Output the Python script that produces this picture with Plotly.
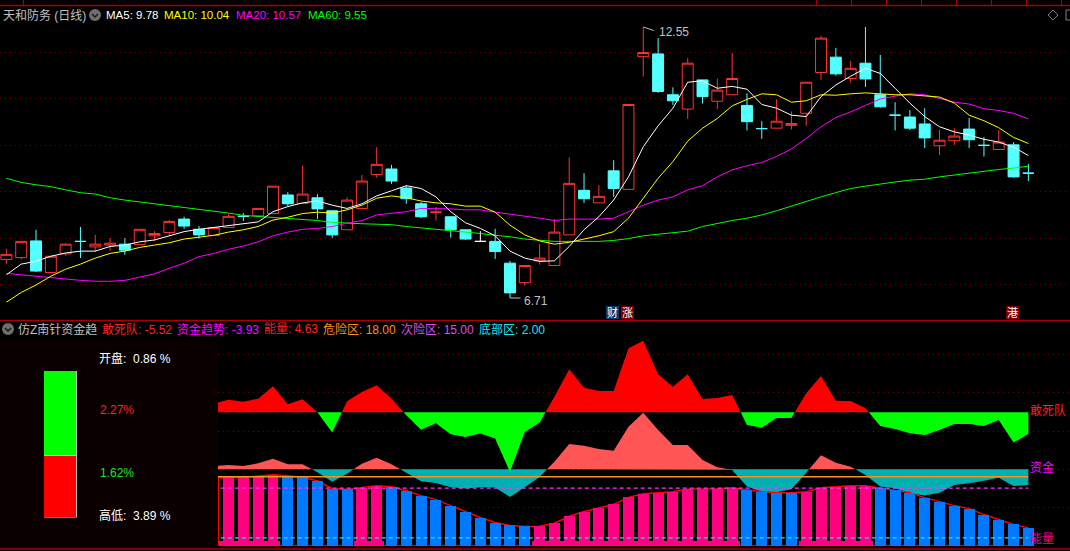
import numpy as np
import plotly.graph_objects as go

W, H = 1070, 551

# ---------- daily candles ----------
opens = [7.54,7.58,7.94,7.26,7.66,7.93,7.81,7.85,7.87,7.86,8.05,8.12,8.41,8.19,8.06,8.23,8.47,8.48,8.53,8.93,
         8.75,8.87,8.59,8.18,8.64,9.37,9.49,9.08,8.74,8.56,8.46,8.18,7.93,7.93,7.46,7.04,7.51,7.41,8.07,9.03,
         8.76,9.45,9.05,11.91,11.97,11.09,10.78,11.41,10.95,11.09,10.86,10.36,10.37,10.43,10.69,11.57,11.90,11.44,11.77,11.09,
         10.65,10.61,10.46,9.99,10.10,10.35,10.00,9.91,10.01,9.40]
highs = [7.77,7.93,8.18,7.61,7.89,8.24,8.07,8.00,8.00,8.19,8.15,8.39,8.46,8.26,8.23,8.52,8.54,8.64,9.12,8.99,
         9.56,8.95,8.59,8.88,9.36,9.96,9.58,9.14,8.78,8.67,8.46,8.18,8.15,8.20,7.51,7.41,7.87,8.41,9.74,9.40,
         9.14,9.68,10.88,12.55,12.31,11.25,11.88,11.41,11.44,11.99,11.12,10.52,10.99,10.73,11.36,12.36,12.10,11.82,12.55,11.95,
         10.93,10.76,10.80,10.33,10.37,10.59,10.18,10.33,10.07,9.60]
lows  = [7.45,7.54,7.27,7.23,7.62,7.57,7.70,7.73,7.64,7.86,7.94,8.05,8.20,7.99,8.06,8.23,8.37,8.48,8.53,8.69,
         8.75,8.41,8.00,8.18,8.64,9.30,9.17,8.74,8.43,8.38,8.01,7.96,7.93,7.55,6.71,6.97,7.43,7.41,8.07,8.76,
         8.76,8.89,9.05,11.48,11.13,10.87,10.57,10.90,10.78,11.09,10.32,10.14,10.37,10.34,10.42,11.41,11.50,11.35,11.26,10.81,
         10.32,10.33,9.94,9.79,10.01,9.94,9.76,9.91,9.30,9.23]
closes= [7.65,7.93,7.29,7.61,7.87,7.93,7.87,7.89,7.74,8.19,8.10,8.36,8.26,8.07,8.23,8.47,8.47,8.64,9.12,8.74,
         8.95,8.63,8.07,8.82,9.23,9.59,9.23,8.85,8.46,8.56,8.18,7.98,7.93,7.71,6.82,7.41,7.57,8.13,9.18,8.85,
         8.90,9.07,10.88,12.00,11.16,10.96,11.77,11.05,11.19,11.44,10.51,10.36,10.52,10.47,11.36,12.31,11.54,11.66,11.43,10.83,
         10.65,10.37,10.16,10.11,10.20,10.12,10.00,10.07,9.32,9.40]
candle_kind = list("rrcrrcrrcr" "rrccrrcrrc" "rccrrrcccr" "ccwccrrrrc" "rcrrccrcrr" "ccrrrrcrcc" "cccrrccrcc")

ma5 = [7.21,7.44,7.50,7.61,7.68,7.72,7.72,7.82,7.85,7.92,7.96,8.05,8.14,8.19,8.23,8.27,8.30,8.35,8.57,8.68,
       8.76,8.80,8.71,8.64,8.74,8.91,9.02,9.13,9.07,8.89,8.57,8.33,8.21,8.05,7.72,7.57,7.50,7.51,7.82,8.18,
       8.46,8.82,9.32,9.97,10.42,10.80,11.36,11.39,11.23,11.27,11.21,10.88,10.80,10.65,10.62,11.05,11.30,11.49,11.66,11.55,
       11.23,10.91,10.62,10.40,10.29,10.22,10.13,10.07,9.96,9.78]
ma10 = [6.62,6.83,6.99,7.18,7.33,7.44,7.57,7.67,7.72,7.80,7.85,7.90,7.98,8.02,8.06,8.13,8.18,8.25,8.39,8.45,
        8.53,8.56,8.54,8.61,8.71,8.86,8.91,8.87,8.80,8.76,8.74,8.69,8.69,8.56,8.28,8.07,7.94,7.87,7.91,7.98,
        8.05,8.14,8.43,8.86,9.29,9.65,10.09,10.37,10.58,10.85,10.99,11.11,11.09,10.93,10.96,11.09,11.08,11.11,11.13,11.11,
        11.09,11.09,11.06,11.04,10.91,10.65,10.53,10.38,10.17,10.04]
ma20 = [7.24,7.21,7.18,7.15,7.11,7.09,7.07,7.07,7.09,7.16,7.23,7.35,7.46,7.60,7.67,7.76,7.83,7.92,8.05,8.13,
        8.19,8.21,8.25,8.32,8.38,8.50,8.54,8.57,8.64,8.64,8.63,8.61,8.61,8.56,8.52,8.48,8.43,8.38,8.41,8.41,
        8.41,8.43,8.57,8.71,8.82,8.89,9.04,9.13,9.32,9.47,9.56,9.63,9.76,9.92,10.15,10.40,10.60,10.72,10.86,11.00,
        11.06,11.11,11.09,11.01,10.93,10.89,10.79,10.75,10.69,10.57]
ma60 = [9.29,9.20,9.15,9.11,9.04,8.98,8.95,8.87,8.82,8.78,8.75,8.71,8.66,8.63,8.59,8.54,8.49,8.47,8.44,8.42,
        8.40,8.38,8.34,8.32,8.31,8.30,8.29,8.25,8.22,8.20,8.17,8.13,8.10,8.06,8.03,7.98,7.95,7.93,7.93,7.93,
        7.93,7.95,7.99,8.05,8.08,8.11,8.15,8.25,8.32,8.38,8.43,8.50,8.59,8.69,8.80,8.89,8.98,9.07,9.12,9.17,
        9.21,9.25,9.27,9.32,9.36,9.40,9.45,9.48,9.51,9.55]

price_ticks = [7, 8, 9, 10, 11, 12]

# ---------- lower indicator (starts at candle 14) ----------
dare = [2.20,3.22,2.71,3.47,6.61,2.03,3.31,0.00,-5.17,2.80,5.17,6.86,3.47,-0.76,-4.41,-2.80,-5.59,-6.27,-5.42,-6.69,
        -15.17,-5.00,-2.63,3.98,10.93,6.27,5.42,5.42,16.27,18.22,9.66,6.53,9.66,3.39,3.64,4.41,-3.22,-3.90,-1.44,-1.44,
        4.83,9.24,2.97,2.88,1.02,-3.47,-4.24,-5.34,-5.76,-4.49,-2.97,-2.97,-3.47,-1.95,-7.71,-5.52]
fund = [0.84,1.09,0.84,1.51,2.68,1.26,1.26,-0.75,-3.10,-1.09,1.42,2.93,1.26,-0.84,-3.01,-3.43,-4.52,-4.85,-4.52,-4.60,
        -6.95,-4.52,-1.92,1.92,6.36,5.94,5.10,4.69,10.71,14.23,9.87,6.11,6.11,2.34,0.50,-0.17,-4.35,-5.61,-5.77,-5.02,
        -0.84,3.51,1.67,0.67,-1.42,-4.35,-4.77,-6.03,-6.61,-5.86,-3.93,-3.51,-2.85,-2.09,-4.18,-3.93]
energy = [17.58,17.79,17.79,18.16,18.49,18.23,17.79,16.94,14.86,14.68,15.12,15.64,15.38,14.34,13.04,12.00,10.44,8.88,7.32,6.03,
          5.25,4.99,5.06,5.84,7.66,8.88,9.74,10.78,12.60,13.56,13.82,14.08,14.68,14.68,14.86,15.12,14.60,14.08,13.82,13.82,
          14.08,15.12,15.38,15.64,15.64,15.04,14.60,13.82,12.52,11.48,10.44,9.66,8.10,6.81,5.51,4.63]
energy_up = [1,1,1,1,1,0,0,0,0,0,1,1,0,0,0,0,0,0,0,0,
             0,0,1,1,1,1,1,1,1,1,1,1,1,1,1,1,0,0,0,0,
             1,1,1,1,1,0,0,0,0,0,0,0,0,0,0,0]
pink_base = 1.15
danger_zone, second_zone, bottom_zone = 18.00, 15.00, 2.00

gauge_low, gauge_high = 1.62, 2.27

# ---------- helpers ----------
RED, CYAN = "#ff3232", "#54ffff"
FONT = "Liberation Sans, Noto Sans CJK SC, sans-serif"


def px(x):
    return x / W


def py(y):
    return 1 - y / H


def split_zero(x, v):
    xs, vs = [], []
    for i in range(len(v)):
        xs.append(x[i]); vs.append(v[i])
        if i + 1 < len(v) and v[i] * v[i + 1] < 0:
            xs.append(x[i] + (x[i + 1] - x[i]) * v[i] / (v[i] - v[i + 1]))
            vs.append(0.0)
    return np.array(xs), np.array(vs)


idx = np.arange(len(closes))
low_idx = np.arange(14, 14 + len(energy))

fig = go.Figure()

# candles
for kind, color, fill in [("r", RED, "#000000"), ("c", CYAN, CYAN), ("w", "#ffffff", "#ffffff")]:
    m = [i for i, k in enumerate(candle_kind) if k == kind]
    fig.add_trace(go.Candlestick(
        x=idx[m], open=[opens[i] for i in m], high=[highs[i] for i in m],
        low=[lows[i] for i in m], close=[closes[i] for i in m],
        increasing=dict(line=dict(color=color, width=1), fillcolor=fill),
        decreasing=dict(line=dict(color=color, width=1), fillcolor=fill),
        whiskerwidth=0, xaxis="x", yaxis="y", showlegend=False, hoverinfo="skip"))

for vals, color in [(ma60, "#00ff00"), (ma20, "#ff00ff"), (ma10, "#ffff00"), (ma5, "#ffffff")]:
    fig.add_trace(go.Scatter(x=idx, y=vals, mode="lines", line=dict(color=color, width=1),
                             xaxis="x", yaxis="y", showlegend=False, hoverinfo="skip"))


def area(vals, axis, pos_color, neg_color):
    xs, vs = split_zero(low_idx.astype(float), np.array(vals, float))
    for arr, col in [(np.maximum(vs, 0), pos_color), (np.minimum(vs, 0), neg_color)]:
        fig.add_trace(go.Scatter(x=xs, y=arr, mode="lines", line=dict(width=0), fill="tozeroy",
                                 fillcolor=col, xaxis="x2", yaxis=axis, showlegend=False, hoverinfo="skip"))


area(fund, "y2", "#ff5555", "#00b0b0")
area(dare, "y3", "#ff0000", "#00ff00")

# energy: the red line sits on an axis drawn before the bars, so only its stretches between bars show
fig.add_trace(go.Scatter(x=low_idx, y=energy, mode="lines", line=dict(color="#ff0000", width=1.5),
                         xaxis="x2", yaxis="y4", showlegend=False, hoverinfo="skip"))
fig.add_trace(go.Scatter(x=low_idx, y=[0] * len(low_idx), mode="lines", line=dict(color="#ff0000", width=1),
                         xaxis="x2", yaxis="y4", showlegend=False, hoverinfo="skip"))
base_x = [i for i, u in zip(low_idx, energy_up) if u]
fig.add_trace(go.Bar(x=base_x, y=[pink_base] * len(base_x), width=1.0,
                     marker=dict(color="#ff0080", line=dict(width=0)),
                     xaxis="x2", yaxis="y6", showlegend=False, hoverinfo="skip"))
fig.add_trace(go.Bar(x=low_idx[1:], y=energy[1:], width=0.74,
                     marker=dict(color=["#ff0080" if u else "#0078ff" for u in energy_up[1:]], line=dict(width=0)),
                     xaxis="x2", yaxis="y6", showlegend=False, hoverinfo="skip"))
for level, color, dash, lw in [(danger_zone, "#ff9020", "solid", 1.5),
                               (second_zone, "#ff30ff", "4px,3px", 1.2),
                               (bottom_zone, "#20e0ff", "4px,3px", 1.2)]:
    fig.add_trace(go.Scatter(x=low_idx, y=[level] * len(low_idx), mode="lines",
                             line=dict(color=color, width=lw, dash=dash),
                             xaxis="x2", yaxis="y6", showlegend=False, hoverinfo="skip"))

# gauge on the left
fig.add_trace(go.Bar(x=[0], y=[gauge_low], width=1, marker=dict(color="#ff0000", line=dict(color="#c0c0c0", width=1)),
                     xaxis="x3", yaxis="y5", showlegend=False, hoverinfo="skip"))
fig.add_trace(go.Bar(x=[0], y=[gauge_high], base=[gauge_low], width=1,
                     marker=dict(color="#00ff00", line=dict(color="#c0c0c0", width=1)),
                     xaxis="x3", yaxis="y5", showlegend=False, hoverinfo="skip"))

# ---------- frame ----------
shapes = [dict(type="rect", xref="paper", yref="paper", x0=0, x1=px(218), y0=py(548), y1=py(340),
               fillcolor="#0a0000", line=dict(width=0), layer="below")]
for y in (5.5, 320.5, 549):
    shapes.append(dict(type="line", xref="paper", yref="paper", x0=0, x1=1, y0=py(y), y1=py(y),
                       line=dict(color="#a80000", width=1.5)))
for x in (23.5, 816.5, 851.5, 886.5, 921.5, 956.5, 991.5, 1026.5, 1061.5):
    shapes.append(dict(type="line", xref="paper", yref="paper", x0=px(x), x1=px(x), y0=py(0), y1=py(5),
                       line=dict(color="#a80000", width=1)))
shapes.append(dict(type="line", xref="paper", yref="paper", x0=px(218.5), x1=px(218.5), y0=py(478), y1=py(546),
                   line=dict(color="#ff0000", width=1)))
# round header icons
for cx, cy in [(95, 15), (8, 329)]:
    shapes.append(dict(type="circle", xref="paper", yref="paper", x0=px(cx - 6), x1=px(cx + 6),
                       y0=py(cy + 6), y1=py(cy - 6), fillcolor="#6e6e6e", line=dict(width=0)))
    shapes.append(dict(type="path", xref="paper", yref="paper",
                       path=f"M {px(cx-3)} {py(cy-1)} L {px(cx)} {py(cy+2)} L {px(cx+3)} {py(cy-1)}",
                       line=dict(color="#1a1a1a", width=1.5)))
# top-right icons
shapes.append(dict(type="path", xref="paper", yref="paper",
                   path=f"M {px(1053)} {py(10)} L {px(1058)} {py(15)} L {px(1053)} {py(20)} L {px(1048)} {py(15)} Z",
                   line=dict(color="#808080", width=1)))
shapes.append(dict(type="rect", xref="paper", yref="paper", x0=px(1066), x1=px(1074), y0=py(20), y1=py(10),
                   line=dict(color="#808080", width=1)))

# ---------- text ----------
ann = []


def label(x, y, text, color, size=12, anchor="left", **kw):
    ann.append(dict(xref="paper", yref="paper", x=px(x), y=py(y), text=text, showarrow=False, xanchor=anchor,
                    yanchor="middle", font=dict(family=FONT, size=size, color=color),
                    borderpad=0, **kw))


label(2, 15, "天和防务 (日线)", "#c0c0c0", 12)
label(105, 15, "MA5: 9.78", "#ffffff", 11.5)
label(163, 15, "MA10: 10.04", "#ffff00", 11.5)
label(235, 15, "MA20: 10.57", "#ff00ff", 11.5)
label(307, 15, "MA60: 9.55", "#00ff00", 11.5)

label(17, 329, "仿Z南针资金趋", "#c0c0c0", 12)
label(101, 329, "敢死队: -5.52", "#ff2020", 12)
label(176, 329, "资金趋势: -3.93", "#ff00ff", 12)
label(263, 329, "能量: 4.63", "#ff2020", 12)
label(322, 329, "危险区: 18.00", "#ff8c1a", 12)
label(400, 329, "次险区: 15.00", "#d850e8", 12)
label(478, 329, "底部区: 2.00", "#20e0e8", 12)

label(98, 358, "开盘:  0.86 %", "#ffffff", 12)
label(99, 410, "2.27%", "#ff2020", 12)
label(99, 473, "1.62%", "#20e020", 12)
label(98, 515, "高低:  3.89 %", "#ffffff", 12)

label(1029, 410, "敢死队", "#ff2020", 12)
label(1029, 467, "资金", "#ff00ff", 12)
label(1029, 539, "能量", "#ff0080", 12)

# high / low marks
for i, price, dx, dy, txt, xs, ys in [(43, highs[43], 12, 4, "12.55", 14, -5), (34, lows[34], 12, 0, "6.71", 12, -3)]:
    ann.append(dict(xref="x", yref="y", x=i, y=price, text="", showarrow=True, ax=dx, ay=dy, arrowhead=0,
                    arrowwidth=1, arrowcolor="#c0c0c0"))
    ann.append(dict(xref="x", yref="y", x=i, y=price, text=txt, showarrow=False, xanchor="left", yanchor="middle",
                    xshift=xs, yshift=ys, font=dict(family=FONT, size=12, color="#c0c0c0")))

# event badges
for cx, txt, bg in [(612.5, "财", "#0a3a6a"), (627.5, "涨", "#7a0000"), (1012.5, "港", "#7a0000")]:
    shapes.append(dict(type="rect", xref="paper", yref="paper", x0=px(cx - 6.5), x1=px(cx + 6.5),
                       y0=py(319), y1=py(306), fillcolor=bg, line=dict(width=0)))
    label(cx, 312.5, txt, "#ffffff", 11, anchor="center")

axis_off = dict(showgrid=False, zeroline=False, showticklabels=False, showline=False, ticks="")
GRID = dict(showgrid=True, gridcolor="#7a0000", gridwidth=1, griddash="1px,4px", zeroline=False,
            showticklabels=False, showline=False, ticks="")

fig.update_layout(
    width=W, height=H, margin=dict(l=0, r=0, t=0, b=0, pad=0), autosize=False,
    paper_bgcolor="#000000", plot_bgcolor="rgba(0,0,0,0)", showlegend=False, hovermode=False,
    barmode="overlay", bargap=0, boxgap=0.15, boxgroupgap=0.13, boxmode="overlay",
    xaxis=dict(domain=[0, 1], range=[-0.4321, 71.81], anchor="y", rangeslider=dict(visible=False), **axis_off),
    yaxis=dict(domain=[py(321), 1], range=[6.214, 13.132], anchor="x", tickvals=price_ticks, **GRID),
    xaxis2=dict(domain=[px(218), 1], range=[14.288, 71.81], anchor="y2", **axis_off),
    yaxis2=dict(domain=[py(548), py(322)], range=[-19.77, 37.01], anchor="x2",
                tickvals=[-9.62, 0, 9.62, 19.24, 28.86], **GRID),
    yaxis3=dict(domain=[py(548), py(322)], range=[-34.53, 22.98], anchor="x2", overlaying="y2", **axis_off),
    yaxis4=dict(domain=[py(548), py(322)], range=[-0.627, 58.38], anchor="x2", overlaying="y2", **axis_off),
    yaxis6=dict(domain=[py(548), py(322)], range=[-0.627, 58.38], anchor="x2", overlaying="y2", **axis_off),
    xaxis3=dict(domain=[px(44), px(77)], range=[-0.5, 0.5], anchor="y5", **axis_off),
    yaxis5=dict(domain=[py(517.5), py(371)], range=[0, gauge_low + gauge_high], anchor="x3", **axis_off),
    shapes=shapes, annotations=ann,
)

fig.write_html("out.html", config=dict(displayModeBar=False),
               post_script="document.body.style.margin='0';document.body.style.background='#000';document.body.style.overflow='hidden';")
